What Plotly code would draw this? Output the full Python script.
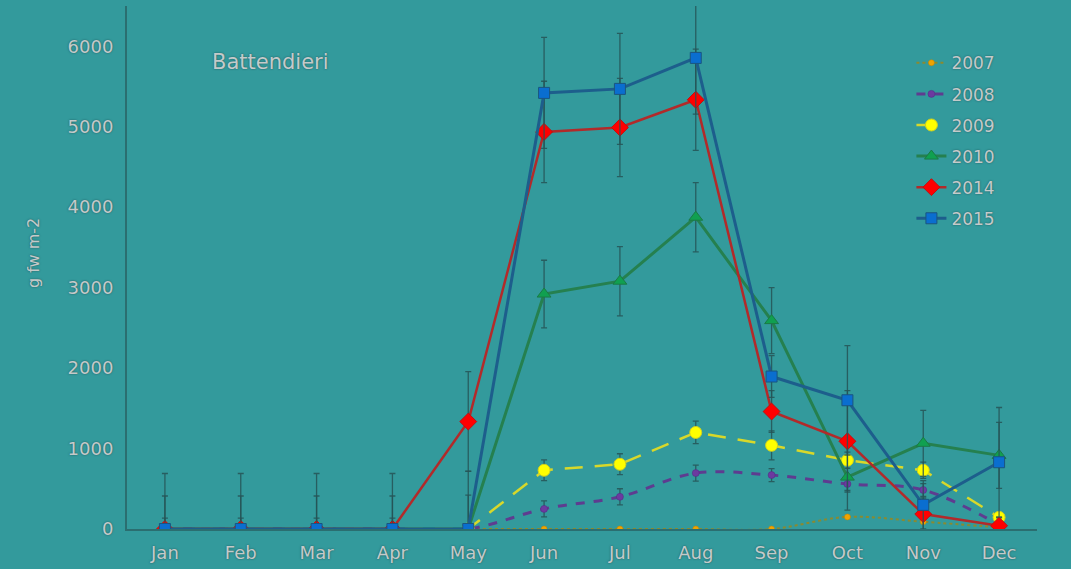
import plotly.graph_objects as go

months = ["Jan", "Feb", "Mar", "Apr", "May", "Jun", "Jul", "Aug", "Sep", "Oct", "Nov", "Dec"]

y2007 = [0, 0, 0, 0, 0, 0, 0, 0, 0, 150, 90, 20]
y2008 = [0, 0, 0, 0, 0, 250, 400, 695, 670, 560, 485, 50]
y2009 = [0, 0, 0, 0, 0, 730, 805, 1200, 1040, 855, 730, 145]
y2010 = [0, 0, 0, 0, 0, 2920, 3080, 3875, 2590, 645, 1065, 915]
y2014 = [0, 0, 0, 0, 1335, 4935, 4990, 5335, 1460, 1090, 185, 40]
y2015 = [0, 0, 0, 0, 0, 5420, 5470, 5855, 1895, 1600, 300, 830]

err2008 = [0, 0, 0, 0, 0, 100, 100, 100, 80, 80, 80, 50]
err2009 = [0, 0, 0, 0, 0, 130, 130, 140, 180, 100, 100, 50]
err2010 = [135, 135, 135, 135, 420, 420, 430, 430, 410, 410, 410, 410]
err2014 = [410, 410, 410, 410, 620, 630, 610, 630, 260, 630, 200, 100]
err2015 = [690, 690, 690, 690, 720, 690, 690, 700, 260, 680, 300, 680]

BG = "#339a9c"
TXT = "#c4caca"
SHADOW = "0px 0px 2px #1f5556"
FONT = "DejaVu Sans"
ERRC = "rgba(38,84,86,0.85)"


def errbar(vals):
    return dict(type="data", array=vals, visible=True, color=ERRC, thickness=1.3, width=3)


series = [
    dict(name="2007", y=y2007, err=None, line=dict(color="#8a8a30", width=2, dash="dot", shape="spline"),
         marker=dict(symbol="circle", size=6, color="#f0a400", line=dict(color="#c08000", width=0.5))),
    dict(name="2008", y=y2008, err=err2008, line=dict(color="#5e3c90", width=3, dash="dash", shape="spline"),
         marker=dict(symbol="circle", size=7, color="#6c3aa0", line=dict(color="#4e2c80", width=0.5))),
    dict(name="2009", y=y2009, err=err2009, line=dict(color="#d8d82a", width=2.5, dash="18px,12px"),
         marker=dict(symbol="circle", size=12, color="#ffff00", line=dict(color="#d0d020", width=1))),
    dict(name="2010", y=y2010, err=err2010, line=dict(color="#25804f", width=3),
         marker=dict(symbol="triangle-up", size=12, color="#10a050", line=dict(color="#1a7a45", width=1))),
    dict(name="2014", y=y2014, err=err2014, line=dict(color="#b22a2a", width=2.5),
         marker=dict(symbol="diamond", size=13, color="#ff0000", line=dict(color="#c01010", width=1))),
    dict(name="2015", y=y2015, err=err2015, line=dict(color="#1d5e8c", width=3),
         marker=dict(symbol="square", size=11, color="#0a6ed0", line=dict(color="#1a5580", width=1))),
]

fig = go.Figure()
for s in series:
    fig.add_trace(go.Scatter(
        x=months, y=s["y"], name=s["name"], mode="lines+markers",
        line=s["line"], marker=s["marker"], legendgroup=s["name"],
        error_y=errbar(s["err"]) if s["err"] else None,
    ))

tickfont = dict(family=FONT, size=18, color=TXT, shadow=SHADOW)

fig.update_layout(
    width=1071, height=569,
    paper_bgcolor=BG, plot_bgcolor=BG,
    margin=dict(l=127, r=34, t=6, b=38),
    font=dict(family=FONT, color=TXT),
    showlegend=True,
    legend=dict(
        x=0.862, y=0.925, xanchor="left", yanchor="top",
        bgcolor="rgba(0,0,0,0)", borderwidth=0,
        font=dict(family=FONT, size=17, color=TXT, shadow=SHADOW),
        tracegroupgap=6, itemwidth=30,
    ),
    xaxis=dict(
        type="category", range=[-0.5, 11.5], showgrid=False, zeroline=False,
        showline=True, linecolor="#2b6e70", linewidth=2,
        ticks="", tickfont=tickfont, ticklabelstandoff=6,
    ),
    yaxis=dict(
        range=[0, 6500], tickvals=[0, 1000, 2000, 3000, 4000, 5000, 6000],
        showgrid=False, zeroline=False,
        showline=True, linecolor="#2b6e70", linewidth=2,
        ticks="", tickfont=tickfont, ticklabelstandoff=8,
    ),
    annotations=[
        dict(text="Battendieri", xref="paper", yref="paper", x=(210 - 127) / 910, y=(531 - 62) / 525,
             xanchor="left", yanchor="middle", showarrow=False,
             font=dict(family=FONT, size=21, color=TXT, shadow=SHADOW)),
        dict(text="g fw m-2", xref="paper", yref="paper", x=(33 - 127) / 910, y=(531 - 254) / 525,
             xanchor="center", yanchor="middle", showarrow=False, textangle=-90,
             font=dict(family=FONT, size=16, color=TXT, shadow=SHADOW)),
    ],
)

fig.write_html("out.html")
